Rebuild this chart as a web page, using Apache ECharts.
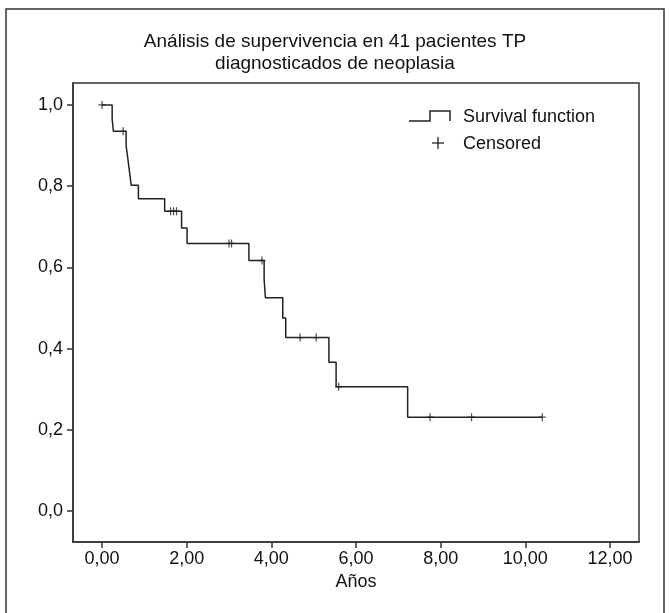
<!DOCTYPE html>
<html>
<head>
<meta charset="utf-8">
<title>Análisis de supervivencia</title>
<script src="https://cdn.jsdelivr.net/npm/echarts@6/dist/echarts.min.js"></script>
<style>
  html, body { margin: 0; padding: 0; background: #ffffff; }
  #chart { width: 670px; height: 613px; }
</style>
</head>
<body>
<div id="chart"></div>
<script>
// Kaplan-Meier steps (años, supervivencia acumulada)
const survTimes = [0, 0.24, 0.27, 0.57, 0.61, 0.65, 0.69, 0.86, 1.48, 1.88, 2.01, 3.47, 3.83, 3.86, 4.27, 4.34, 5.36, 5.53, 7.22, 10.40]
const survValues = [1.0, 0.965, 0.935, 0.90, 0.868, 0.835, 0.802, 0.769, 0.738, 0.697, 0.659, 0.617, 0.57, 0.525, 0.475, 0.427, 0.366, 0.306, 0.231, 0.231]
// censored cases
const censorTimes = [0, 0.50, 1.62, 1.69, 1.76, 3.00, 3.06, 3.78, 4.68, 5.06, 5.59, 7.75, 8.73, 10.40]
const censorValues = [1.0, 0.935, 0.738, 0.738, 0.738, 0.659, 0.659, 0.617, 0.427, 0.427, 0.306, 0.231, 0.231, 0.231]
const xTicks = [0, 2, 4, 6, 8, 10, 12]
const yTicks = [0, 0.2, 0.4, 0.6, 0.8, 1.0]

const font = 'Liberation Sans, Arial, Helvetica, sans-serif'
const ink = '#222222'

const chart = echarts.init(document.getElementById('chart'))
const option = {
  animation: false,
  title: {
    text: 'Análisis de supervivencia en 41 pacientes TP\ndiagnosticados de neoplasia',
    left: 'center',
    top: 26,
    padding: [5, 0, 5, 10],
    textStyle: { fontFamily: font, fontSize: 19, fontWeight: 'normal', color: '#111', lineHeight: 22 }
  },
  grid: { left: 73, right: 31, top: 83, bottom: 71, show: true, borderColor: '#333', borderWidth: 1.5 },
  xAxis: {
    type: 'value',
    min: -0.685,
    max: 12.685,
    name: 'Años',
    nameLocation: 'middle',
    nameGap: 30,
    nameTextStyle: { fontFamily: font, fontSize: 18, color: '#111' },
    axisLine: { show: true, onZero: false, lineStyle: { color: '#333', width: 1.5 } },
    axisTick: { show: true, length: 6, customValues: xTicks, lineStyle: { color: '#333', width: 1.5 } },
    axisLabel: {
      customValues: xTicks,
      margin: 8,
      fontFamily: font,
      fontSize: 18,
      color: '#111',
      formatter: v => v.toFixed(2).replace('.', ',')
    },
    splitLine: { show: false }
  },
  yAxis: {
    type: 'value',
    min: -0.0764,
    max: 1.054,
    axisLine: { show: true, onZero: false, lineStyle: { color: '#333', width: 1.5 } },
    axisTick: { show: true, length: 6, customValues: yTicks, lineStyle: { color: '#333', width: 1.5 } },
    axisLabel: {
      customValues: yTicks,
      margin: 10,
      fontFamily: font,
      fontSize: 18,
      color: '#111',
      formatter: v => v.toFixed(1).replace('.', ',')
    },
    splitLine: { show: false }
  },
  series: [
    {
      name: 'Survival function',
      type: 'line',
      step: 'end',
      showSymbol: false,
      lineStyle: { color: ink, width: 1.5 },
      data: survTimes.map((t, i) => [t, survValues[i]])
    },
    {
      name: 'Censored',
      type: 'scatter',
      symbol: 'path://M5,0L5,10M0,5L10,5',
      symbolSize: [7, 8],
      itemStyle: { color: 'transparent', borderColor: ink, borderWidth: 1.3 },
      data: censorTimes.map((t, i) => [t, censorValues[i]])
    }
  ],
  graphic: [
    {
      type: 'rect',
      silent: true,
      shape: { x: 6, y: 9, width: 658, height: 640 },
      style: { fill: 'none', stroke: '#333', lineWidth: 1.5 }
    },
    {
      type: 'group',
      silent: true,
      children: [
        {
          type: 'polyline',
          shape: { points: [[409, 121], [430, 121], [430, 111], [450, 111], [450, 121]] },
          style: { stroke: ink, lineWidth: 1.5, fill: 'none' }
        },
        {
          type: 'text',
          x: 463, y: 117,
          style: { text: 'Survival function', font: '18px ' + font, fill: '#111', verticalAlign: 'middle' }
        },
        {
          type: 'line',
          shape: { x1: 438, y1: 137, x2: 438, y2: 149 },
          style: { stroke: ink, lineWidth: 1.3 }
        },
        {
          type: 'line',
          shape: { x1: 432, y1: 143, x2: 444, y2: 143 },
          style: { stroke: ink, lineWidth: 1.3 }
        },
        {
          type: 'text',
          x: 463, y: 144,
          style: { text: 'Censored', font: '18px ' + font, fill: '#111', verticalAlign: 'middle' }
        }
      ]
    }
  ]
}
chart.setOption(option)
</script>
</body>
</html>
